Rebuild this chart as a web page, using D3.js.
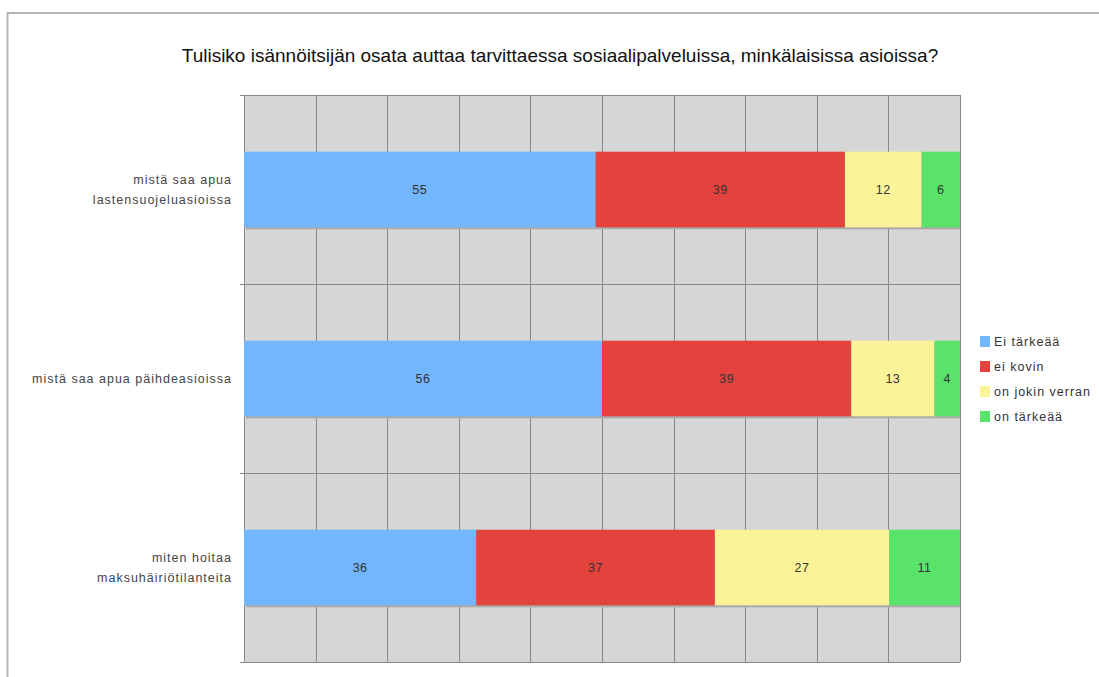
<!DOCTYPE html>
<html>
<head>
<meta charset="utf-8">
<script src="https://cdn.jsdelivr.net/npm/d3@7"></script>
<style>
  body { margin: 0; background: #fff; }
  svg { display: block; font-family: "Liberation Sans", Arial, sans-serif; }
</style>
</head>
<body>
<svg id="chart" width="1099" height="677"></svg>
<script>
// data
const title = "Tulisiko isännöitsijän osata auttaa tarvittaessa sosiaalipalveluissa, minkälaisissa asioissa?"
const categories = ["mistä saa apua lastensuojeluasioissa", "mistä saa apua päihdeasioissa", "miten hoitaa maksuhäiriötilanteita"]
const categoryLines = [["mistä saa apua", "lastensuojeluasioissa"], ["mistä saa apua päihdeasioissa"], ["miten hoitaa", "maksuhäiriötilanteita"]]
const series = ["Ei tärkeää", "ei kovin", "on jokin verran", "on tärkeää"]
const eiTarkeaa = [55, 56, 36]
const eiKovin = [39, 39, 37]
const jokinVerran = [12, 13, 27]
const onTarkeaa = [6, 4, 11]
const colors = ["#72b6fe", "#e3423d", "#fbf397", "#5ae36b"]
const gridTicks = d3.range(0, 1.0001, 0.1)

const rows = categories.map((c, i) => ({
    cat: c,
    [series[0]]: eiTarkeaa[i],
    [series[1]]: eiKovin[i],
    [series[2]]: jokinVerran[i],
    [series[3]]: onTarkeaa[i]
}))

const stacked = d3.stack().keys(series).offset(d3.stackOffsetExpand)(rows)

const svg = d3.select('#chart')
const plotLeft = 244, plotRight = 960, plotTop = 95, plotBottom = 662

const x = d3.scaleLinear().domain([0, 1]).range([plotLeft, plotRight])
const y = d3.scaleBand().domain(categories).range([plotTop, plotBottom]).padding(0)
const color = d3.scaleOrdinal().domain(series).range(colors)
const barH = y.bandwidth() * 0.4

// frame around the picture
svg.append('line').attr('x1', 7).attr('x2', 1099).attr('y1', 13).attr('y2', 13)
    .attr('stroke', '#b5b5b5').attr('stroke-width', 2)
svg.append('line').attr('x1', 7.5).attr('x2', 7.5).attr('y1', 12).attr('y2', 677)
    .attr('stroke', '#b5b5b5').attr('stroke-width', 2)

svg.append('text')
    .attr('x', 560).attr('y', 62)
    .attr('text-anchor', 'middle')
    .attr('font-size', 19)
    .attr('fill', '#111')
    .text(title)

// plot background + grid
svg.append('rect')
    .attr('x', plotLeft).attr('y', plotTop)
    .attr('width', plotRight - plotLeft).attr('height', plotBottom - plotTop)
    .attr('fill', '#d6d6d6')

svg.append('g')
    .selectAll('line')
    .data(gridTicks)
    .enter()
    .append('line')
    .attr('x1', (d) => Math.round(x(d)) + 0.5)
    .attr('x2', (d) => Math.round(x(d)) + 0.5)
    .attr('y1', plotTop).attr('y2', plotBottom)
    .attr('stroke', '#888')

const hLines = categories.map((c) => y(c)).concat([plotBottom])
svg.append('g')
    .selectAll('line')
    .data(hLines)
    .enter()
    .append('line')
    .attr('x1', plotLeft - 4).attr('x2', plotRight)
    .attr('y1', (d) => Math.round(d) + 0.5)
    .attr('y2', (d) => Math.round(d) + 0.5)
    .attr('stroke', '#888')

// bar shadow
svg.append('g')
    .selectAll('rect')
    .data(categories)
    .enter()
    .append('rect')
    .attr('x', plotLeft + 2)
    .attr('y', (d) => y(d) + (y.bandwidth() - barH) / 2 + 2)
    .attr('width', plotRight - plotLeft - 2)
    .attr('height', barH)
    .attr('fill', '#aaa')

// stacked bars
const layer = svg.append('g')
    .selectAll('g')
    .data(stacked)
    .enter()
    .append('g')
    .attr('fill', (d) => color(d.key))

layer.selectAll('rect')
    .data((d) => d)
    .enter()
    .append('rect')
    .attr('x', (d) => x(d[0]))
    .attr('y', (d) => y(d.data.cat) + (y.bandwidth() - barH) / 2)
    .attr('width', (d) => x(d[1]) - x(d[0]))
    .attr('height', barH)

layer.selectAll('text')
    .data((d) => d.map((v) => ({ v: v, key: d.key })))
    .enter()
    .append('text')
    .attr('x', (d) => (x(d.v[0]) + x(d.v[1])) / 2)
    .attr('y', (d) => y(d.v.data.cat) + y.bandwidth() / 2)
    .attr('dy', '0.35em')
    .attr('text-anchor', 'middle')
    .attr('font-size', 12.5)
    .attr('letter-spacing', 0.5)
    .attr('fill', '#333')
    .text((d) => d.v.data[d.key])

// category labels
svg.append('g')
    .selectAll('text')
    .data(categories)
    .enter()
    .append('text')
    .attr('text-anchor', 'end')
    .attr('font-size', 12.5)
    .attr('letter-spacing', 1)
    .attr('fill', '#444')
    .each(function (d, i) {
        const lines = categoryLines[i]
        const cy = y(d) + y.bandwidth() / 2
        lines.forEach((l, j) => {
            d3.select(this).append('tspan')
                .attr('x', 232)
                .attr('y', cy + (j - (lines.length - 1) / 2) * 20)
                .attr('dy', '0.35em')
                .text(l)
        })
    })

// legend
const legend = svg.append('g')
    .selectAll('g')
    .data(series)
    .enter()
    .append('g')
    .attr('transform', (d, i) => `translate(980, ${342 + i * 25})`)

legend.append('rect')
    .attr('x', 0).attr('y', -6)
    .attr('width', 10).attr('height', 11)
    .attr('fill', (d) => color(d))

legend.append('text')
    .attr('x', 14).attr('dy', '0.35em')
    .attr('font-size', 12.5)
    .attr('letter-spacing', 1)
    .attr('fill', '#333')
    .text((d) => d)
</script>
</body>
</html>
